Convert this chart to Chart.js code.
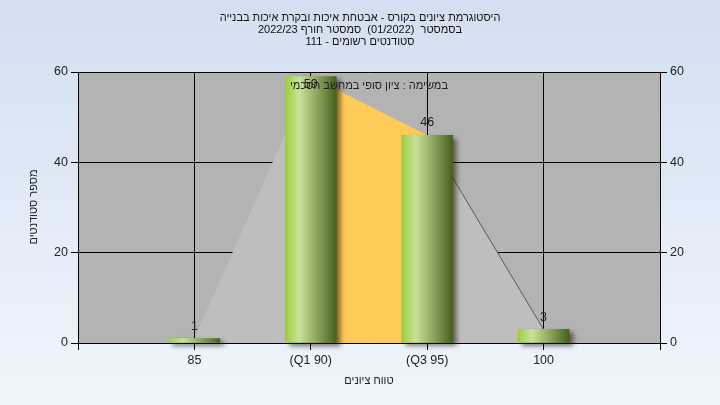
<!DOCTYPE html>
<html><head><meta charset="utf-8">
<script src="https://cdn.jsdelivr.net/npm/chart.js@4/dist/chart.umd.min.js"></script>
<style>html,body{margin:0;padding:0;background:#e4edf8;overflow:hidden}canvas{display:block}</style>
</head><body>
<canvas id="c" width="720" height="405"></canvas>
<script>
const titleLines = [
  'היסטוגרמת ציונים בקורס - אבטחת איכות ובקרת איכות בבנייה',
  'בסמסטר  (01/2022)  סמסטר חורף 2022/23',
  'סטודנטים רשומים - 111'
];
const categories = ['85', '(Q1 90)', '(Q3 95)', '100'];
const counts = [1, 59, 46, 3];
const yMin = 0, yMax = 60, yStep = 20;
const noteText = 'במשימה : ציון סופי במחשב הסכמי';
const xTitle = 'טווח ציונים';
const yTitle = 'מספר סטודנטים';

const FONT = '"Liberation Sans", Arial, sans-serif';
const points = categories.map((c, i) => ({x: i + 1, y: counts[i]}));

function barGradient(c) {
  const chart = c.chart;
  const xs = chart.scales && chart.scales.x;
  if (!xs || c.type !== 'data' || xs.width === undefined) return '#8fb84a';
  const cx = xs.getPixelForValue(points[c.dataIndex].x);
  const w = 51;
  const g = chart.ctx.createLinearGradient(cx - w / 2, 0, cx + w / 2, 0);
  g.addColorStop(0, '#9ccd3f');
  g.addColorStop(0.27, '#c8e396');
  g.addColorStop(0.55, '#98b26a');
  g.addColorStop(0.8, '#6b8640');
  g.addColorStop(1, '#465f1c');
  return g;
}

const deco = {
  id: 'deco',
  beforeDraw(chart) {
    const {ctx, chartArea: a} = chart;
    ctx.save();
    const g = ctx.createLinearGradient(0, 0, 0, chart.height);
    g.addColorStop(0, '#d3dff0');
    g.addColorStop(1, '#eff6fd');
    ctx.fillStyle = g;
    ctx.fillRect(0, 0, chart.width, chart.height);
    ctx.fillStyle = '#b3b3b3';
    ctx.fillRect(a.left, a.top, a.right - a.left, a.bottom - a.top);
    ctx.restore();
  },
  beforeDatasetDraw(chart, args) {
    if (args.meta.type === 'bar') {
      const ctx = chart.ctx;
      ctx.save();
      ctx.shadowColor = 'rgba(30,25,10,0.6)';
      ctx.shadowBlur = 5;
      ctx.shadowOffsetX = 4;
      ctx.shadowOffsetY = 3;
    }
  },
  afterDatasetDraw(chart, args) {
    if (args.meta.type === 'bar') chart.ctx.restore();
  },
  afterDatasetsDraw(chart) {
    const {ctx, chartArea: a} = chart;
    const meta = chart.getDatasetMeta(0);
    ctx.save();
    ctx.font = '12.5px ' + FONT;
    ctx.fillStyle = '#222';
    ctx.textAlign = 'center';
    ctx.textBaseline = 'bottom';
    meta.data.forEach((el, i) => {
      const y = Math.max(el.y - 6, a.top + 19);
      ctx.fillText(String(counts[i]), el.x, y);
    });
    ctx.restore();
  },
  afterDraw(chart) {
    const {ctx, chartArea: a} = chart;
    ctx.save();
    ctx.direction = 'rtl';
    ctx.fillStyle = '#111';
    ctx.textAlign = 'center';
    ctx.textBaseline = 'middle';
    ctx.font = '11px ' + FONT;
    titleLines.forEach((t, i) => ctx.fillText(t, 360, 18 + i * 12));
    ctx.fillStyle = '#222';
    ctx.fillText(noteText, 369, 86);
    ctx.fillText(xTitle, (a.left + a.right) / 2, 381);
    ctx.save();
    ctx.translate(34, 207);
    ctx.rotate(-Math.PI / 2);
    ctx.fillText(yTitle, 0, 0);
    ctx.restore();
    ctx.restore();
  }
};

const tickFont = {family: FONT, size: 12.5};

new Chart(document.getElementById('c'), {
  data: {
    datasets: [
      {
        type: 'bar',
        data: points,
        barThickness: 51,
        backgroundColor: barGradient,
        borderWidth: 0,
        order: 0,
        clip: false
      },
      {
        type: 'line',
        data: points,
        fill: 'origin',
        backgroundColor: '#bebebe',
        borderColor: 'rgba(0,0,0,0)',
        borderWidth: 1,
        pointRadius: 0,
        tension: 0,
        order: 1,
        segment: {
          backgroundColor: c => c.p0DataIndex === 1 ? '#ffcb58' : undefined,
          borderColor: c => c.p0DataIndex === 2 ? '#5a5a5a' : 'rgba(0,0,0,0)'
        }
      }
    ]
  },
  options: {
    responsive: false,
    devicePixelRatio: 1,
    animation: false,
    layout: {padding: {top: 72, left: 0, right: 0, bottom: 0}},
    plugins: {legend: {display: false}, tooltip: {enabled: false}, title: {display: false}},
    scales: {
      x: {
        type: 'linear',
        offset: false,
        min: 0, max: categories.length + 1,
        afterFit: s => { s.height = 62; },
        grid: {offset: false, color: '#000', tickColor: '#000', tickLength: 7, lineWidth: 1},
        border: {color: '#000'},
        ticks: {
          stepSize: 1, autoSkip: false, maxRotation: 0, padding: 3,
          color: '#222', font: tickFont,
          callback: v => categories[v - 1] !== undefined ? categories[v - 1] : ''
        }
      },
      y: {
        position: 'left',
        min: yMin, max: yMax,
        afterFit: s => { s.width = 78; },
        grid: {color: '#000', tickColor: '#000', tickLength: 7},
        border: {color: '#000'},
        ticks: {stepSize: yStep, color: '#222', font: tickFont, padding: 3}
      },
      y2: {
        position: 'right',
        display: true,
        min: yMin, max: yMax,
        afterFit: s => { s.width = 60; },
        grid: {drawOnChartArea: false, color: '#000', tickColor: '#000', tickLength: 7},
        border: {color: '#000'},
        ticks: {stepSize: yStep, color: '#222', font: tickFont, padding: 3}
      }
    }
  },
  plugins: [deco]
});
</script>
</body></html>
